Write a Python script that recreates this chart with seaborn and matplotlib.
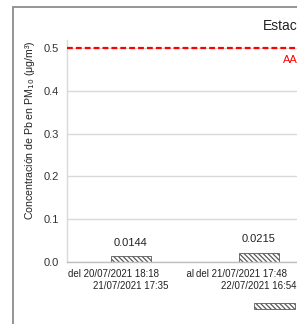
import matplotlib
matplotlib.use("Agg")
import matplotlib.pyplot as plt
import seaborn as sns
import pandas as pd
from matplotlib.patches import Rectangle, Patch

# ---- data ----
periods = [
    "del 20/07/2021 18:18" + " " * 10 + "al\n21/07/2021 17:35",
    "del 21/07/2021 17:48" + " " * 10 + "al\n22/07/2021 16:54",
]
pb_values = [0.0144, 0.0215]
value_labels = ["0.0144", "0.0215"]
limit_value = 0.5
limit_label = "AA"
yticks = [0.0, 0.1, 0.2, 0.3, 0.4, 0.5]
ytick_labels = ["0.0", "0.1", "0.2", "0.3", "0.4", "0.5"]
title = "Estación"
series_name = "Pb"

df = pd.DataFrame({"periodo": periods, "pb": pb_values})

sns.set_style("white")
plt.rcParams["font.family"] = ["Liberation Sans", "DejaVu Sans"]
plt.rcParams["hatch.linewidth"] = 0.9

W, H = 297, 324
fig = plt.figure(figsize=(W / 100, H / 100), dpi=100)

# axes geometry in pixels
left_px, right_px, top_px, bottom_px = 67, 310, 40, 262
ax = fig.add_axes([left_px / W, 1 - bottom_px / H,
                   (right_px - left_px) / W, (bottom_px - top_px) / H])

hatch_col = "#5a5a5a"
HATCH = "\\" * 7
sns.barplot(data=df, x="periodo", y="pb", ax=ax, width=0.32,
            color="white", edgecolor=hatch_col, linewidth=0.6,
            errorbar=None)
for p in ax.patches:
    p.set_hatch(HATCH)
    p.set_facecolor("white")
    p.set_edgecolor(hatch_col)

ax.set_xlim(-0.5, (right_px - 131) / 128)
ymax = 0.5 + (48 - top_px) / 428
ax.set_ylim(0, ymax)
ax.set_yticks(yticks)
ax.set_yticklabels(ytick_labels, fontsize=8, color="#333333")
ax.tick_params(axis="y", length=0, pad=6)
ax.tick_params(axis="x", length=0, pad=5, labelsize=7, labelcolor="#222222")
for t in ax.get_xticklabels():
    t.set_multialignment("center")

ax.yaxis.grid(True, color="#d9d9d9", linewidth=1)
ax.set_axisbelow(True)
for s in ["top", "right"]:
    ax.spines[s].set_visible(False)
ax.spines["left"].set_color("#d9d9d9")
ax.spines["bottom"].set_color("#bfbfbf")
ax.spines["left"].set_linewidth(1)
ax.spines["bottom"].set_linewidth(1)

ax.set_xlabel("")
ax.set_ylabel("Concentración de Pb en PM$_{10}$ (μg/m³)", fontsize=7.6,
              color="#222222")
ax.yaxis.set_label_coords(-(67 - 37) / (right_px - left_px),
                          (bottom_px - 130) / (bottom_px - top_px))

# value labels
ax.bar_label(ax.containers[0], labels=value_labels, padding=6, fontsize=8,
             color="#222222")

# limit line
ax.axhline(limit_value, color="#ff0000", linewidth=1.6, dashes=(2.6, 1.4),
           zorder=3)
fig.text(283 / W, 1 - 60 / H, limit_label, color="#ff0000", fontsize=8,
         ha="left", va="center")

# title
fig.text(263 / W, 1 - 26 / H, title, fontsize=10, ha="left", va="center",
         color="#222222")

# outer chart border
fig.patches.append(Rectangle((12.5 / W, -0.1), 1.0, 1.1 - 7.5 / H,
                             transform=fig.transFigure, fill=False,
                             edgecolor="#8c8c8c", linewidth=1.3))

# legend
handle = Patch(facecolor="white", edgecolor=hatch_col,
               hatch=HATCH, linewidth=0.6)
fig.legend(handles=[handle], labels=[series_name], loc="center left",
           bbox_to_anchor=(254 / W, 1 - 307 / H), frameon=False,
           fontsize=8, borderpad=0, borderaxespad=0,
           handlelength=41 / 11.1, handleheight=6 / 11.1,
           handletextpad=2.5)

fig.savefig("out.png", dpi=100)
